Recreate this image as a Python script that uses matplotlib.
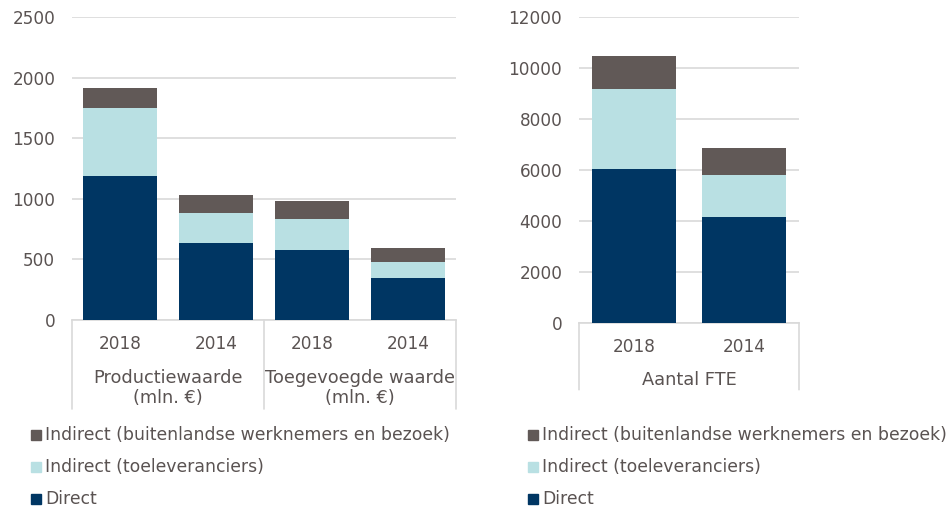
import matplotlib
matplotlib.use("Agg")
import matplotlib.pyplot as plt
from matplotlib.patches import Rectangle

# ---------------- data ----------------
left_years = ["2018", "2014", "2018", "2014"]
left_groups = ["Productiewaarde\n(mln. €)", "Toegevoegde waarde\n(mln. €)"]
left_direct = [1190, 633, 575, 349]
left_toelev = [562, 252, 261, 132]
left_indirect_bl = [165, 144, 143, 116]

right_years = ["2018", "2014"]
right_group = "Aantal FTE"
right_direct = [6020, 4150]
right_toelev = [3170, 1655]
right_indirect_bl = [1295, 1065]

series_names = ["Direct", "Indirect (toeleveranciers)",
                "Indirect (buitenlandse werknemers en bezoek)"]
series_colors = ["#003663", "#B9E0E3", "#615957"]

left_yticks = [0, 500, 1000, 1500, 2000, 2500]
right_yticks = [0, 2000, 4000, 6000, 8000, 10000, 12000]

# ---------------- style ----------------
TXT = "#5a5352"
GRID = "#D9D9D9"
FAM = ["DejaVu Sans"]
plt.rcParams["font.family"] = FAM
FS = 12.2
FS_GROUP = 12.8
FS_LEG = 12.4

W, H = 952, 509
fig = plt.figure(figsize=(W / 100, H / 100), dpi=100)


def px_axes(x0, y0, x1, y1):
    return fig.add_axes([x0 / W, 1 - y1 / H, (x1 - x0) / W, (y1 - y0) / H])


def stacked(ax, direct, toelev, indb, ylim, yticks):
    n = len(direct)
    xs = list(range(n))
    bw = 0.77
    ax.bar(xs, direct, bw, color=series_colors[0], zorder=3)
    ax.bar(xs, toelev, bw, bottom=direct, color=series_colors[1], zorder=3)
    b3 = [d + t for d, t in zip(direct, toelev)]
    ax.bar(xs, indb, bw, bottom=b3, color=series_colors[2], zorder=3)
    ax.set_xlim(-0.5, n - 0.5)
    ax.set_ylim(*ylim)
    ax.set_yticks(yticks)
    ax.set_yticklabels([str(t) for t in yticks], fontsize=FS, color=TXT)
    ax.tick_params(axis="y", length=0, pad=12)
    ax.tick_params(axis="x", length=0, labelbottom=False)
    ax.grid(axis="y", color=GRID, linewidth=1.2, zorder=0)
    for s in ["top", "right", "left"]:
        ax.spines[s].set_visible(False)
    ax.spines["bottom"].set_color(GRID)
    ax.spines["bottom"].set_linewidth(1.2)
    ax.set_facecolor("none")


def vline(ax, xdata, depth_px):
    ax.annotate("", xy=(xdata, 0), xycoords=("data", "axes fraction"),
                xytext=(0, -depth_px), textcoords="offset pixels",
                arrowprops=dict(arrowstyle="-", color=GRID, linewidth=1.2,
                                shrinkA=0, shrinkB=0), annotation_clip=False)


def label(ax, text, x, dy, fs):
    ax.annotate(text, xy=(x, 0), xycoords=("data", "axes fraction"),
                xytext=(0, -dy), textcoords="offset pixels",
                ha="center", va="center", fontsize=fs, color=TXT,
                linespacing=1.1, annotation_clip=False)


# Left chart
axL = px_axes(72, 17.3, 456, 320)
stacked(axL, left_direct, left_toelev, left_indirect_bl, (0, 2500), left_yticks)
for i, y in enumerate(left_years):
    label(axL, y, i, 24, FS)
for g, lab in enumerate(left_groups):
    label(axL, lab, 2 * g + 0.5, 68, FS_GROUP)
for xv in [-0.5, 1.5, 3.5]:
    vline(axL, xv, 89)

# Right chart
axR = px_axes(579, 17.3, 799, 322.7)
stacked(axR, right_direct, right_toelev, right_indirect_bl, (0, 12000), right_yticks)
for i, y in enumerate(right_years):
    label(axR, y, i, 24, FS)
label(axR, right_group, 0.5, 57, FS_GROUP)
for xv in [-0.5, 1.5]:
    vline(axR, xv, 67)

# Legends (order reversed: top = last series)
rows_y = [435, 467, 499]
for x_sq in [31, 528]:
    for k, idx in enumerate([2, 1, 0]):
        yc = rows_y[k]
        fig.patches.append(Rectangle((x_sq / W, 1 - (yc + 5) / H), 10 / W, 10 / H,
                                     transform=fig.transFigure,
                                     color=series_colors[idx]))
        fig.text((x_sq + 14) / W, 1 - yc / H, series_names[idx],
                 ha="left", va="center", fontsize=FS_LEG, color=TXT)

fig.savefig("out.png", dpi=100)
